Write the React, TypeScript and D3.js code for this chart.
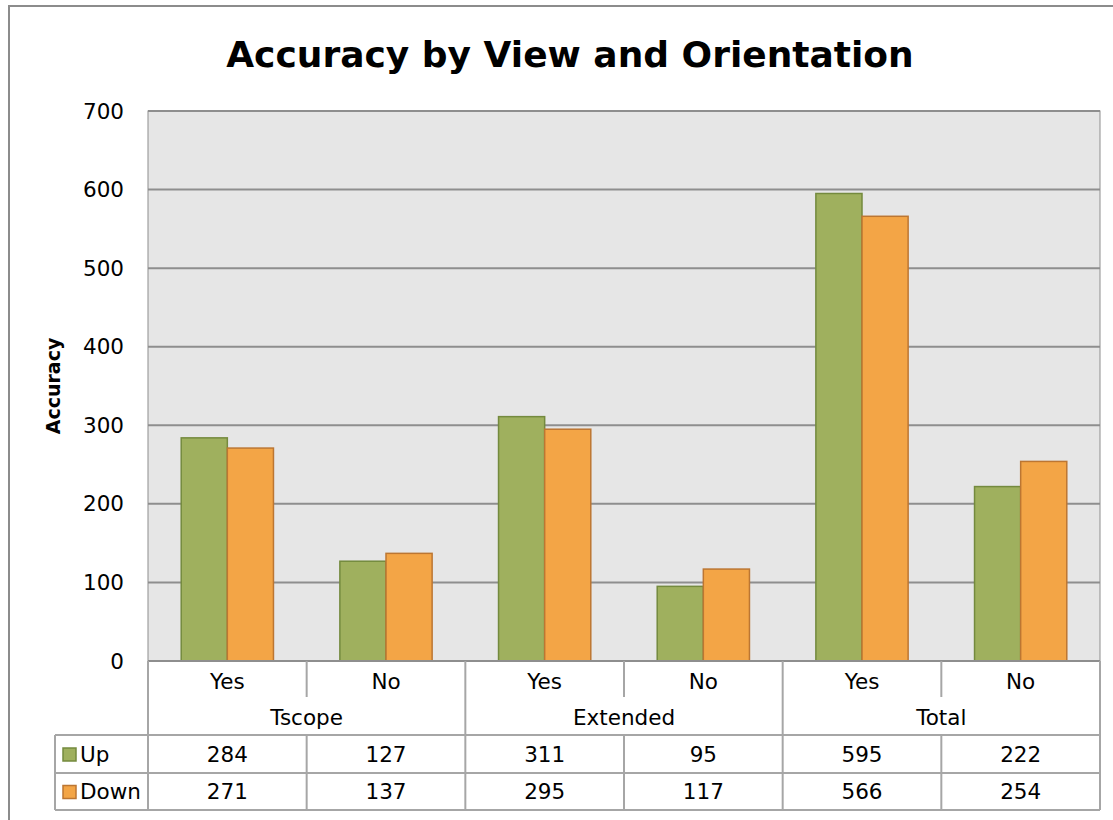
import React from "react";
import * as d3 from "d3";

const groups = ["Tscope", "Extended", "Total"];
const subLabels = ["Yes", "No", "Yes", "No", "Yes", "No"];
const seriesNames = ["Up", "Down"];
const upValues = [284, 127, 311, 95, 595, 222];
const downValues = [271, 137, 295, 117, 566, 254];
const yTicks = [0, 100, 200, 300, 400, 500, 600, 700];

const W = 1113;
const H = 820;
const FONT = "'DejaVu Sans', 'Open Sans', sans-serif";
const colors = ["#9FB05E", "#F3A546"];
const strokes = ["#748A3E", "#BC7632"];
const GRID = "#8E8E8E";
const TABLE = "#A6A6A6";

export default function App() {
  const left = 148, right = 1100, top = 111, bottom = 661;
  const y = d3.scaleLinear().domain([0, 700]).range([bottom, top]);
  const idx = d3.range(subLabels.length).map(String);
  const x = d3.scaleBand().domain(idx).range([left, right]).paddingInner(0).paddingOuter(0);
  const inner = d3.scaleBand().domain(seriesNames).range([0, x.bandwidth()]).paddingInner(0).paddingOuter(0.72);
  const series = [upValues, downValues];

  const row1 = bottom, row2 = 700, row3 = 735, row4 = 773, row5 = 810;
  const legendLeft = 55;
  const fs = 21.5;

  return (
    <svg width={W} height={H} style={{ position: "absolute", left: 0, top: 0, background: "#fff" }} fontFamily={FONT}>
      <rect x={9} y={6} width={W + 10} height={H + 10} fill="#fff" stroke="#8C8C8C" strokeWidth={2} />
      <text x={570} y={67} textAnchor="middle" fontSize={36} fontWeight="bold" fill="#000">Accuracy by View and Orientation</text>
      <rect x={left} y={top} width={right - left} height={bottom - top} fill="#E6E6E6" stroke={GRID} strokeWidth={1} />
      {yTicks.map((t) => (
        <g key={t}>
          {t > 0 && <line x1={left} x2={right} y1={y(t)} y2={y(t)} stroke={GRID} strokeWidth={2} />}
          <text x={124} y={y(t)} dy="0.35em" textAnchor="end" fontSize={fs} fill="#000">{t}</text>
        </g>
      ))}
      <text transform={`translate(60,386) rotate(-90)`} textAnchor="middle" fontSize={19} fontWeight="bold" fill="#000">Accuracy</text>
      {series.map((vals, s) =>
        vals.map((v, i) => (
          <rect key={`${s}-${i}`} x={(x(String(i)) as number) + (inner(seriesNames[s]) as number)} y={y(v)} width={inner.bandwidth()} height={y(0) - y(v)} fill={colors[s]} stroke={strokes[s]} strokeWidth={1.5} />
        ))
      )}
      <line x1={left} x2={right} y1={bottom} y2={bottom} stroke={GRID} strokeWidth={2} />
      {/* table */}
      <g stroke={TABLE} strokeWidth={2} fill="none">
        <line x1={left} x2={left} y1={row1} y2={row5} />
        <line x1={right} x2={right} y1={row1} y2={row5} />
        <line x1={legendLeft} x2={legendLeft} y1={row3} y2={row5} />
        <line x1={legendLeft} x2={right} y1={row3} y2={row3} />
        <line x1={legendLeft} x2={right} y1={row4} y2={row4} />
        <line x1={legendLeft} x2={right} y1={row5} y2={row5} />
        {idx.slice(1).map((k, i) => {
          const xx = x(k) as number;
          const isGroup = (i + 1) % 2 === 0;
          return (
            <g key={k}>
              <line x1={xx} x2={xx} y1={row1} y2={isGroup ? row3 : row2 - 3} />
              <line x1={xx} x2={xx} y1={row3} y2={row5} />
            </g>
          );
        })}
      </g>
      {subLabels.map((l, i) => (
        <text key={i} x={(x(String(i)) as number) + x.bandwidth() / 2} y={(row1 + row2) / 2 + 1} dy="0.35em" textAnchor="middle" fontSize={fs} fill="#000">{l}</text>
      ))}
      {groups.map((g, gi) => (
        <text key={g} x={(x(String(gi * 2)) as number) + x.bandwidth()} y={(row2 + row3) / 2} dy="0.35em" textAnchor="middle" fontSize={fs} fill="#000">{g}</text>
      ))}
      {series.map((vals, s) => {
        const ry = s === 0 ? (row3 + row4) / 2 : (row4 + row5) / 2;
        return (
          <g key={s}>
            <rect x={63} y={ry - 6} width={13} height={13} fill={colors[s]} stroke={strokes[s]} strokeWidth={1.5} />
            <text x={80} y={ry} dy="0.35em" fontSize={fs} fill="#000">{seriesNames[s]}</text>
            {vals.map((v, i) => (
              <text key={i} x={(x(String(i)) as number) + x.bandwidth() / 2} y={ry} dy="0.35em" textAnchor="middle" fontSize={fs} fill="#000">{v}</text>
            ))}
          </g>
        );
      })}
    </svg>
  );
}
